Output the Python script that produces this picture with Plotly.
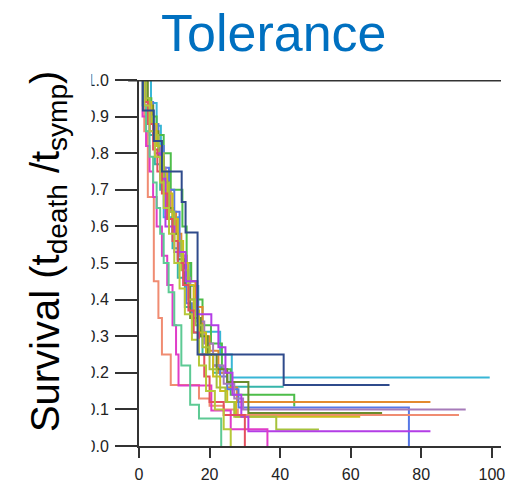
import plotly.graph_objects as go

# Kaplan-Meier style step curves: event times, survival after each event, last follow-up time
TIMES = [
    [3.4, 5.0, 6.2, 7.0, 11.2, 14.5, 16.8, 23.0, 26.3],                                   # cyan
    [1.5, 3.0, 4.5, 6.0, 8.0, 9.5, 11.0, 13.0, 15.0, 18.0, 21.0, 26.0],                   # teal
    [2.0, 3.5, 5.0, 7.0, 9.0, 12.3, 13.5, 14.8, 16.5, 18.0, 20.4, 23.5, 26.0, 44.0],      # green
    [1.5, 3.0, 4.5, 6.0, 7.5, 9.0, 10.5, 12.0, 13.5, 16.0, 18.0, 20.0, 22.5, 25.0, 27.8], # orange
    [2.0, 4.0, 5.5, 7.0, 8.5, 10.0, 11.5, 13.4, 15.0, 17.0, 19.0, 21.0, 23.0, 25.0, 28.2, 76.5],  # blue
    [1.8, 3.2, 4.6, 6.0, 7.5, 8.7, 10.0, 11.2, 12.8, 14.5, 16.5, 18.5, 21.0, 24.0, 27.0, 29.5],   # purple
    [2.5, 4.0, 5.5, 7.0, 8.2, 9.5, 11.0, 13.0, 14.5, 17.5, 19.5, 22.0, 25.0, 31.0],       # olive
    [1.5, 2.5, 4.2, 5.5, 6.5, 9.0, 17.0, 20.0, 24.0, 28.0],                               # salmon
    [2.0, 3.5, 5.0, 6.5, 8.0, 9.5, 11.0, 12.5, 14.0, 15.5, 17.0, 19.0, 21.0, 23.0, 25.0, 27.5],   # yellow
    [2.0, 3.0, 4.0, 5.5, 7.0, 8.5, 10.0, 12.0, 14.0, 16.0, 18.0, 20.0, 22.0, 24.5, 27.0, 38.9],   # lime
    [1.5, 3.0, 4.5, 6.0, 7.5, 10.0, 13.2, 16.5, 20.5, 22.5, 24.5, 26.5, 29.0, 31.0],      # violet
    [1.0, 2.0, 3.0, 4.0, 5.0, 6.5, 8.0, 9.5, 10.5, 11.2, 20.5, 26.0, 36.4],               # magenta
    [1.2, 2.5, 4.0, 5.2, 6.5, 8.0, 9.5, 11.0, 12.5, 14.0, 15.5, 17.0, 18.5, 20.0, 24.0, 30.0],    # red
    [1.0, 2.0, 3.0, 4.0, 5.0, 6.0, 7.0, 8.4, 10.0, 12.0, 14.5, 17.0, 23.3],               # mint
    [1.5, 3.0, 4.5, 6.0, 7.0, 8.5, 10.0, 11.5, 13.0, 15.0, 17.0, 19.0, 21.5, 24.0, 26.0], # yellow-green
    [1.1, 4.2, 6.5, 12.1, 13.2, 16.6, 41.0],                                              # dark blue
]
SURV = [
    [0.9375, 0.875, 0.75, 0.625, 0.5, 0.4375, 0.3125, 0.25, 0.1875],
    [0.92, 0.85, 0.77, 0.70, 0.62, 0.54, 0.46, 0.38, 0.31, 0.25, 0.20, 0.162],
    [0.95, 0.90, 0.85, 0.80, 0.70, 0.60, 0.50, 0.45, 0.40, 0.33, 0.28, 0.21, 0.14, 0.108],
    [0.94, 0.88, 0.82, 0.76, 0.70, 0.64, 0.58, 0.52, 0.45, 0.38, 0.30, 0.26, 0.20, 0.16, 0.12],
    [0.94, 0.88, 0.82, 0.76, 0.70, 0.64, 0.52, 0.39, 0.35, 0.30, 0.25, 0.22, 0.19, 0.155, 0.105, 0.0],
    [0.94, 0.88, 0.82, 0.76, 0.70, 0.64, 0.58, 0.52, 0.46, 0.40, 0.34, 0.28, 0.22, 0.17, 0.13, 0.10],
    [0.93, 0.86, 0.79, 0.72, 0.65, 0.58, 0.51, 0.44, 0.35, 0.30, 0.25, 0.21, 0.175, 0.09],
    [0.86, 0.68, 0.45, 0.35, 0.25, 0.167, 0.13, 0.11, 0.10, 0.085],
    [0.94, 0.88, 0.82, 0.75, 0.69, 0.62, 0.56, 0.50, 0.44, 0.37, 0.31, 0.25, 0.19, 0.15, 0.12, 0.08],
    [0.95, 0.90, 0.85, 0.80, 0.72, 0.64, 0.56, 0.48, 0.40, 0.33, 0.27, 0.21, 0.16, 0.12, 0.08, 0.045],
    [0.93, 0.86, 0.80, 0.73, 0.60, 0.53, 0.45, 0.36, 0.33, 0.27, 0.20, 0.14, 0.08, 0.04],
    [0.90, 0.82, 0.75, 0.68, 0.60, 0.52, 0.44, 0.33, 0.25, 0.165, 0.097, 0.046, 0.0],
    [0.94, 0.88, 0.81, 0.75, 0.69, 0.62, 0.56, 0.50, 0.44, 0.37, 0.31, 0.25, 0.19, 0.12, 0.085, 0.0],
    [0.93, 0.86, 0.79, 0.72, 0.65, 0.58, 0.50, 0.42, 0.33, 0.22, 0.113, 0.075, 0.0],
    [0.93, 0.86, 0.79, 0.72, 0.65, 0.58, 0.50, 0.43, 0.36, 0.29, 0.22, 0.15, 0.10, 0.046, 0.0],
    [0.917, 0.833, 0.75, 0.667, 0.583, 0.25, 0.167],
]
LAST_FOLLOWUP = [99.4, 41.0, 44.0, 82.6, 76.5, 92.6, 68.9, 90.7, 62.7, 51.0, 82.6, 36.4, 30.0, 23.3, 26.0, 71.0]

COLORS = ["#38B6D6", "#36B5AA", "#4DBD4A", "#E38A2E", "#5677E6", "#A67BB9", "#6B8C2C", "#F08C72",
          "#CDBE1C", "#A6C23C", "#B33DE6", "#E03CC8", "#E34F5E", "#5DCA94", "#B7C83A", "#2F4B8C"]

X_TICKS = [0, 20, 40, 60, 80, 100]
Y_TICKS = [0.0, 0.1, 0.2, 0.3, 0.4, 0.5, 0.6, 0.7, 0.8, 0.9, 1.0]

fig = go.Figure()
for t, s, last, c in zip(TIMES, SURV, LAST_FOLLOWUP, COLORS):
    xs = [0.0] + list(t)
    ys = [1.0] + list(s)
    if last > t[-1]:
        xs.append(last)
        ys.append(s[-1])
    fig.add_trace(go.Scatter(x=xs, y=ys, mode="lines",
                             line=dict(color=c, width=2, shape="hv"),
                             showlegend=False, hoverinfo="skip"))

W, H = 511, 489
ML, MR, MT, MB = 139, 6, 80, 39
PW = W - ML - MR
PH = H - MT - MB

def px_x(p):
    return (p - ML) / PW

def px_y(p):
    return (H - MB - p) / PH

fig.update_layout(
    width=W, height=H,
    margin=dict(l=ML, r=MR, t=MT, b=MB, pad=0),
    paper_bgcolor="white", plot_bgcolor="white",
    font=dict(family="Liberation Sans, Arial, sans-serif", color="#222"),
    xaxis=dict(range=[0, 102.6], tickvals=X_TICKS, ticks="outside", ticklen=10, tickwidth=1.5,
               tickcolor="#333", showline=True, linecolor="#333", linewidth=2, showgrid=False,
               zeroline=False, tickfont=dict(size=16, color="#222"), ticklabelstandoff=3),
    yaxis=dict(range=[0, 1.0], tickvals=Y_TICKS, tickformat=".1f", ticks="outside", ticklen=22,
               tickwidth=1.5, tickcolor="#333", showline=True, linecolor="#333", linewidth=2,
               showgrid=False, zeroline=False, tickfont=dict(size=16, color="#222"),
               ticklabelstandoff=3),
    shapes=[
        dict(type="line", xref="paper", yref="y", x0=px_x(128), x1=1.0, y0=1.0, y1=1.0,
             line=dict(color="#333", width=3), layer="above"),
        dict(type="rect", xref="paper", yref="paper", x0=px_x(0), x1=px_x(91),
             y0=px_y(H), y1=px_y(0), fillcolor="white", line=dict(width=0), layer="above"),
    ],
    annotations=[
        dict(text="Tolerance", xref="paper", yref="paper", x=px_x(275), y=px_y(32),
             xanchor="center", yanchor="middle", showarrow=False,
             font=dict(size=52, color="#0070C0", family="Liberation Sans, Arial, sans-serif")),
        dict(text="Survival (t<sub>death</sub> /t<sub>symp</sub>)", xref="paper", yref="paper",
             x=px_x(47), y=px_y(254), xanchor="center", yanchor="middle", textangle=-90,
             showarrow=False,
             font=dict(size=40, color="black", family="Liberation Sans, Arial, sans-serif")),
    ],
)

fig.write_html("out.html")
